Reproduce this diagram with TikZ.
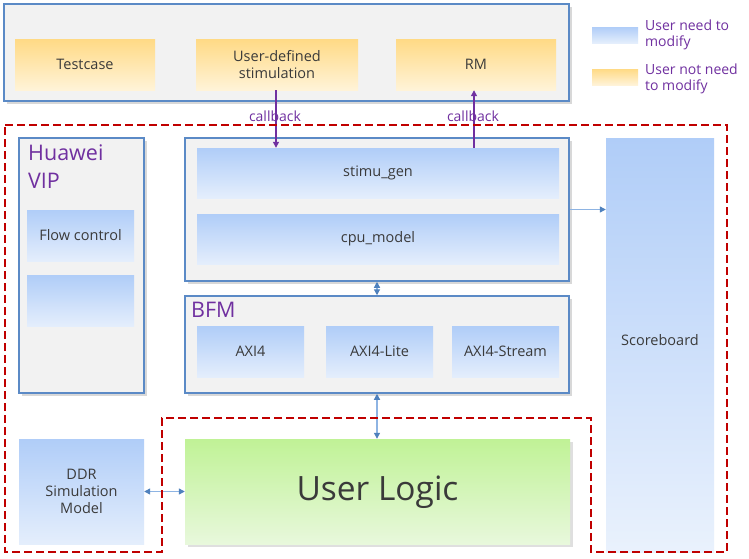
\documentclass[tikz,border=0pt]{standalone}
\usepackage{fontspec}
\setmainfont{Open Sans}
\usetikzlibrary{arrows.meta,shadows}
\definecolor{txt}{HTML}{3A3A3A}
\definecolor{frame}{HTML}{5B8AC6}
\definecolor{grayfill}{HTML}{F2F2F2}
\definecolor{bluetop}{HTML}{B0CDF8}
\definecolor{bluebot}{HTML}{E4EEFC}
\definecolor{oratop}{HTML}{FFDA85}
\definecolor{orabot}{HTML}{FFF3D8}
\definecolor{greentop}{HTML}{C0F296}
\definecolor{greenbot}{HTML}{E8F8DC}
\definecolor{purp}{HTML}{7030A0}
\definecolor{redd}{HTML}{C00000}
\definecolor{linkline}{HTML}{8EB4E3}
\definecolor{linkhead}{HTML}{4F81BD}
\tikzset{
  container/.style={draw=frame, line width=1.5pt, fill=grayfill, inner sep=0pt,
    drop shadow={shadow xshift=2.5pt, shadow yshift=-2.5pt, opacity=0.3}},
  bluebox/.style={shading=axis, top color=bluetop, bottom color=bluebot, draw=none,
    inner sep=0pt, text=txt, font=\fontsize{14.5}{17}\selectfont, align=center},
  orabox/.style={shading=axis, top color=oratop, bottom color=orabot, draw=none,
    inner sep=0pt, text=txt, font=\fontsize{14.5}{17}\selectfont, align=center},
  bigtitle/.style={text=purp, font=\fontsize{21.5}{28}\selectfont, inner sep=0pt, align=left},
  legtext/.style={text=purp, font=\fontsize{14}{16}\selectfont, inner sep=0pt, align=left, anchor=west},
  cblabel/.style={text=purp, font=\fontsize{14}{16}\selectfont, inner sep=0pt},
  cbarrow/.style={draw=purp, line width=1.3pt, -{Triangle[length=6pt,width=6pt]}},
  link/.style={draw=linkline, line width=1.2pt},
  linkone/.style={link, -{Triangle[length=6pt,width=6pt,color=linkhead]}},
  linktwo/.style={link, {Triangle[length=6pt,width=6pt,color=linkhead]}-{Triangle[length=6pt,width=6pt,color=linkhead]}},
  reddash/.style={draw=redd, line width=2.8pt, dash pattern=on 8pt off 4pt},
}
\begin{document}
\begin{tikzpicture}[x=1pt,y=-1pt]
\useasboundingbox (0,0) rectangle (749,558);
\fill[white] (0,0) rectangle (749,558);

% top container
\node[container, minimum width=565pt, minimum height=97pt] (top) at (286.5,52.5) {};
\node[orabox, minimum width=140pt, minimum height=51pt] (testcase) at (85,64.5) {Testcase};
\node[orabox, minimum width=162pt, minimum height=51pt] (uds) at (277,64.5) {User-defined\\stimulation};
\node[orabox, minimum width=160pt, minimum height=51pt] (rm) at (476,64.5) {RM};

% legend
\node[bluebox, minimum width=46pt, minimum height=16pt] (legb) at (615,35) {};
\node[orabox, minimum width=46pt, minimum height=16pt] (lego) at (615,77) {};
\node[legtext] (legbt) at (645,34.5) {User need to\\modify};
\node[legtext] (legot) at (645,78.5) {User not need\\to modify};

% Huawei VIP
\node[container, minimum width=125pt, minimum height=255pt] (vip) at (81.5,265.5) {};
\node[bigtitle, anchor=north west] (viptitle) at (28,145) {Huawei\\VIP};
\node[bluebox, minimum width=107pt, minimum height=51pt] (flow) at (80.5,235.5) {Flow control};
\node[bluebox, minimum width=107pt, minimum height=51pt] (empty) at (80.5,300.5) {};

% stimulus container
\node[container, minimum width=384pt, minimum height=143pt] (stim) at (377,209.5) {};
\node[bluebox, minimum width=362pt, minimum height=50pt] (stimugen) at (378,173) {stimu\_gen};
\node[bluebox, minimum width=362pt, minimum height=50pt] (cpu) at (378,239) {cpu\_model};

% scoreboard
\node[bluebox, top color=bluetop, bottom color=bluebot!80!white, minimum width=108pt, minimum height=414pt] (score) at (660,345) {};
\node[text=txt, font=\fontsize{14.5}{17}\selectfont, inner sep=0pt] (scoretext) at (660,340) {Scoreboard};

% BFM
\node[container, minimum width=384pt, minimum height=97pt] (bfm) at (377,344.5) {};
\node[bigtitle, anchor=north west] (bfmtitle) at (191,302) {BFM};
\node[bluebox, minimum width=107pt, minimum height=51pt] (axi) at (250.5,351.5) {AXI4};
\node[bluebox, minimum width=107pt, minimum height=51pt] (axil) at (379.5,351.5) {AXI4-Lite};
\node[bluebox, minimum width=107pt, minimum height=51pt] (axis) at (505.5,351.5) {AXI4-Stream};

% user logic and DDR
\node[shading=axis, top color=greentop, bottom color=greenbot, inner sep=0pt,
  minimum width=385pt, minimum height=105pt,
  drop shadow={shadow xshift=2.5pt, shadow yshift=-2.5pt, opacity=0.25}] (ul) at (377.5,491.5) {};
\node[text=txt, font=\fontsize{33.5}{36}\selectfont, inner sep=0pt] (ultext) at (377.5,492) {User Logic};
\node[bluebox, minimum width=125pt, minimum height=105pt] (ddr) at (81.5,491.5) {DDR\\Simulation\\Model};

% connectors
\draw[cbarrow] (uds.south -| 276,0) -- (stimugen.north -| 276,0);
\draw[cbarrow] (stimugen.north -| 474,0) -- (rm.south -| 474,0);
\draw[linkone] (stim.east) -- (stim.east -| score.west);
\draw[linktwo] (stim.south) -- (bfm.north);
\draw[linktwo] (bfm.south) -- (ul.north -| bfm.south);
\draw[linktwo] (ddr.east) -- (ul.west);

% red dashed region
\draw[reddash] (5,125) -- (727,125) -- (727,552) -- (591,552) -- (591,418) -- (162,418) -- (162,552) -- (5,552) -- cycle;

% callback labels
\node[cblabel] (cb1) at (275,116) {callback};
\node[cblabel] (cb2) at (473,116) {callback};
\end{tikzpicture}
\end{document}
